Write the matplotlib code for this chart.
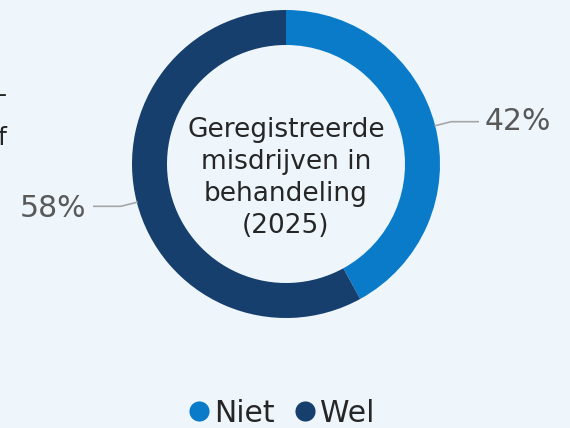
import numpy as np
import matplotlib
matplotlib.use("Agg")
import matplotlib.pyplot as plt
from matplotlib.lines import Line2D

labels = ["Niet", "Wel"]
values = [42, 58]
colors = ["#0a7bc9", "#173f6e"]
center_text = "Geregistreerde\nmisdrijven in\nbehandeling\n(2025)"

BG = "#eef6fc"
plt.rcParams["font.family"] = ["DejaVu Sans"]

fig = plt.figure(figsize=(5.7, 4.28), dpi=100, facecolor=BG)
ax = fig.add_axes([0, 0, 1, 1])
ax.set_facecolor(BG)

cx, cy, r = 286, 264, 154
wedges, _ = ax.pie(values, colors=colors, startangle=90, counterclock=False,
                   center=(cx, cy), radius=r, frame=True,
                   wedgeprops=dict(width=35, linewidth=0))
ax.set_xlim(0, 570)
ax.set_ylim(0, 428)
ax.set_aspect("equal")
ax.axis("off")

ax.text(cx, cy - 14, center_text, ha="center", va="center", fontsize=19,
        color="#262626", linespacing=1.3)

# percentage labels with elbow leader lines
for w, v in zip(wedges, values):
    mid = np.deg2rad((w.theta1 + w.theta2) / 2)
    x0, y0 = cx + r * np.cos(mid), cy + r * np.sin(mid)
    side = 1 if np.cos(mid) > 0 else -1
    x1, y1 = x0 + side * 16, y0 + 4 * np.sign(np.sin(mid))
    x2 = x1 + side * 27
    ax.plot([x0, x1, x2], [y0, y1, y1], color="#a6a6a6", lw=1.2)
    ax.text(x2 + side * (6 if side > 0 else 8), y1 - (0 if side > 0 else 2), f"{v}%",
            ha="left" if side > 0 else "right",
            va="center", fontsize=21.5, color="#595959")

# clipped fragments of neighbouring text on the left edge
ax.text(-2, 333, "-", fontsize=18, color="#262626", va="center")
ax.text(-3, 290, "f", fontsize=18, color="#262626", va="center")

handles = [Line2D([], [], marker="o", linestyle="", markersize=14.5,
                  markerfacecolor=c, markeredgewidth=0) for c in colors]
fig.legend(handles, labels, loc="center", bbox_to_anchor=(0.49, 0.034),
           ncol=2, frameon=False, fontsize=21.5, handletextpad=0.0,
           columnspacing=0.5, handlelength=1.0, labelcolor="#262626")

fig.savefig("out.png", dpi=100, facecolor=BG)
